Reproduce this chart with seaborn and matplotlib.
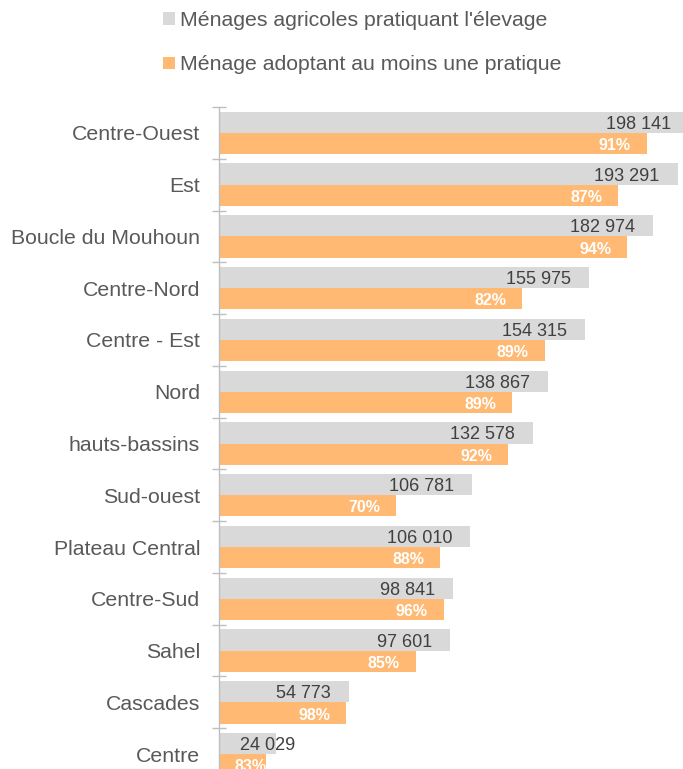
import numpy as np
import pandas as pd
import matplotlib
matplotlib.use("Agg")
import matplotlib.pyplot as plt
from matplotlib.patches import Patch
import seaborn as sns

regions = ["Centre-Ouest", "Est", "Boucle du Mouhoun", "Centre-Nord", "Centre - Est",
           "Nord", "hauts-bassins", "Sud-ouest", "Plateau Central", "Centre-Sud",
           "Sahel", "Cascades", "Centre"]
menages_elevage = [198141, 193291, 182974, 155975, 154315, 138867, 132578,
                   106781, 106010, 98841, 97601, 54773, 24029]
pct_adoption = [91, 87, 94, 82, 89, 89, 92, 70, 88, 96, 85, 98, 83]
series = ["Ménages agricoles pratiquant l'élevage",
          "Ménage adoptant au moins une pratique"]

GREY = "#d9d9d9"
ORANGE = "#ffb973"
TEXT = "#595959"

adopting = [m * p / 100 for m, p in zip(menages_elevage, pct_adoption)]
df = pd.DataFrame({
    "region": regions * 2,
    "valeur": menages_elevage + adopting,
    "serie": [series[0]] * len(regions) + [series[1]] * len(regions),
})

sns.set_style("white")
plt.rcParams["font.family"] = ["Liberation Sans", "DejaVu Sans"]

W, H = 683, 769
fig = plt.figure(figsize=(W / 100, H / 100), dpi=100)
ax = fig.add_axes([218.5 / W, (H - 780) / H, 475 / W, 673 / H])

sns.barplot(data=df, x="valeur", y="region", hue="serie", orient="h",
            hue_order=series, order=regions, palette=[GREY, ORANGE],
            width=0.82, saturation=1, linewidth=0, legend=False, ax=ax)

ax.set_xlim(0, 200000)
ax.set_ylim(len(regions) - 0.5, -0.5)
ax.set_xlabel("")
ax.set_ylabel("")
ax.xaxis.set_visible(False)
for side in ["top", "right", "bottom"]:
    ax.spines[side].set_visible(False)
ax.spines["left"].set_color("#bfbfbf")
ax.spines["left"].set_linewidth(1)

ax.set_yticks(range(len(regions)))
ax.set_yticklabels(regions, fontsize=15.3, color=TEXT)
ax.tick_params(axis="y", which="major", length=0, pad=13.3)
ax.set_yticks(np.arange(-0.5, len(regions), 1), minor=True)
ax.tick_params(axis="y", which="minor", left=True, length=9.4, width=1,
               direction="inout", color="#bfbfbf")

off = 0.82 / 4
px_per_unit = 475 / 200000
dy = -1.5
for i, (m, a, p) in enumerate(zip(menages_elevage, adopting, pct_adoption)):
    txt = f"{m:,}".replace(",", " ")
    if m * px_per_unit > 100:
        ax.annotate(txt, (m, i - off), xytext=(-13, dy), textcoords="offset points",
                    ha="right", va="center", fontsize=13, color="#404040")
    else:
        ax.annotate(txt, (0, i - off), xytext=(15.5, dy), textcoords="offset points",
                    ha="left", va="center", fontsize=13, color="#404040")
    lab = f"{p}%"
    if a * px_per_unit > 70:
        ax.annotate(lab, (a, i + off), xytext=(-11.5, dy), textcoords="offset points",
                    ha="right", va="center", fontsize=11.5, fontweight="bold",
                    color="white")
    else:
        ax.annotate(lab, (0, i + off), xytext=(11.5, dy), textcoords="offset points",
                    ha="left", va="center", fontsize=11.5, fontweight="bold",
                    color="white")

handles = [Patch(facecolor=GREY, edgecolor="none"),
           Patch(facecolor=ORANGE, edgecolor="none")]
fig.legend(handles, series, loc="upper left", bbox_to_anchor=(163 / W, 1 - 11 / H),
           frameon=False, fontsize=15.3, labelcolor=TEXT, handlelength=0.55,
           handleheight=0.55, handletextpad=0.25, labelspacing=1.2,
           borderpad=0, borderaxespad=0)

fig.savefig("out.png", dpi=100)
